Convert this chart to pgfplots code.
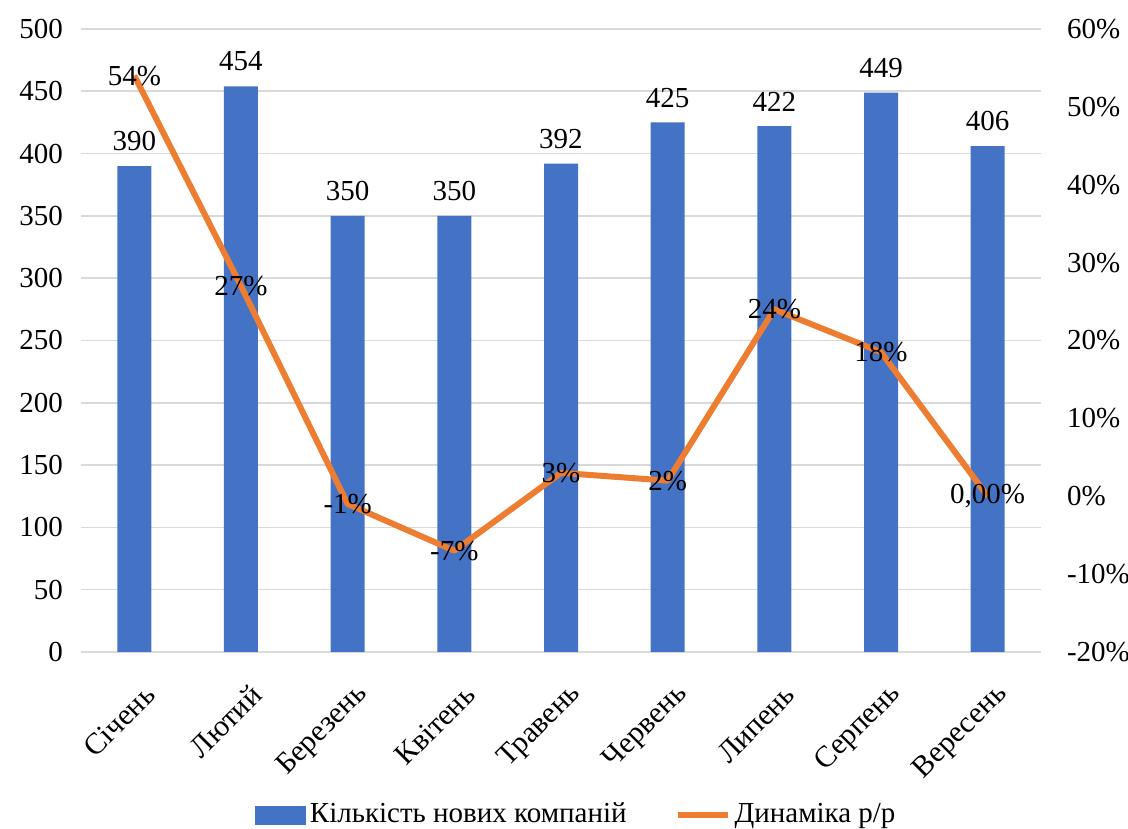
\documentclass[border=0pt]{standalone}
\usepackage{pgfplots}
\pgfplotsset{compat=1.18}
\usepackage{fontspec}
\setmainfont{Liberation Serif}
\definecolor{barblue}{HTML}{4472C4}
\definecolor{lineorange}{HTML}{ED7D31}
\definecolor{gridgray}{HTML}{D9D9D9}
\begin{document}
\fontsize{14.5}{17}\selectfont
\begin{tikzpicture}
\pgfplotsset{
  every axis/.append style={
    scale only axis, width=480pt, height=311.5pt,
    xmin=-0.5, xmax=8.5,
    font=\fontsize{14.5}{17}\selectfont,
    /pgf/number format/assume math mode=true,
  }
}
\begin{axis}[
  name=ax,
  ymin=0, ymax=500,
  ytick={0,50,...,500},
  yticklabel style={/pgf/number format/fixed},
  ymajorgrids, grid style={gridgray, line width=0.8pt},
  axis line style={draw=none},
  axis x line*=bottom,
  axis y line*=left,
  x axis line style={gridgray, line width=0.8pt},
  major tick length=0pt,
  xtick={0,...,8},
  xticklabels={Січень,Лютий,Березень,Квітень,Травень,Червень,Липень,Серпень,Вересень},
  xticklabel style={rotate=45, anchor=east, xshift=-3pt, yshift=-19pt, font=\fontsize{15}{17}\selectfont},
  yticklabel style={xshift=-4pt},
]
\addplot[ybar, bar width=17pt, fill=barblue, draw=none,
  nodes near coords, every node near coord/.append style={anchor=south, yshift=2.5pt, font=\fontsize{14.5}{17}\selectfont}]
  coordinates {(0,390) (1,454) (2,350) (3,350) (4,392) (5,425) (6,422) (7,449) (8,406)};
\end{axis}
\begin{axis}[
  ymin=-20, ymax=60,
  ytick={-20,-10,...,60},
  yticklabels={-20\%,-10\%,0\%,10\%,20\%,30\%,40\%,50\%,60\%},
  axis x line=none,
  axis y line*=right,
  y axis line style={draw=none},
  major tick length=0pt,
  yticklabel style={xshift=8pt, anchor=west},
  legend columns=2,
  legend style={at={(axis description cs:0.517,-0.262)}, anchor=center, draw=none,
    font=\fontsize{14.5}{17}\selectfont, column sep=0pt,
    /tikz/every even column/.append style={column sep=22pt}},
]
\addlegendimage{legend image code/.code={\fill[barblue] (0pt,-4.5pt) rectangle (25pt,4.5pt);}}
\addlegendentry{Кількість нових компаній}
\addplot[lineorange, line width=3pt, line join=round,
  legend image code/.code={\draw[lineorange, line width=3pt] (0pt,0pt) -- (25pt,0pt);},
  nodes near coords, point meta=explicit symbolic,
  every node near coord/.append style={anchor=center, text=black, font=\fontsize{14.5}{17}\selectfont}]
  coordinates {(0,54) [54\%] (1,27) [27\%] (2,-1) [-1\%] (3,-7) [-7\%] (4,3) [3\%] (5,2) [2\%] (6,24) [24\%] (7,18.5) [18\%] (8,0) [0{,}00\%]};
\addlegendentry{Динаміка р/р}
\end{axis}
\pgfresetboundingbox
\useasboundingbox ([xshift=-40.5pt,yshift=-88.5pt]ax.south west) rectangle ([xshift=43.5pt,yshift=14.5pt]ax.north east);
\end{tikzpicture}
\end{document}
